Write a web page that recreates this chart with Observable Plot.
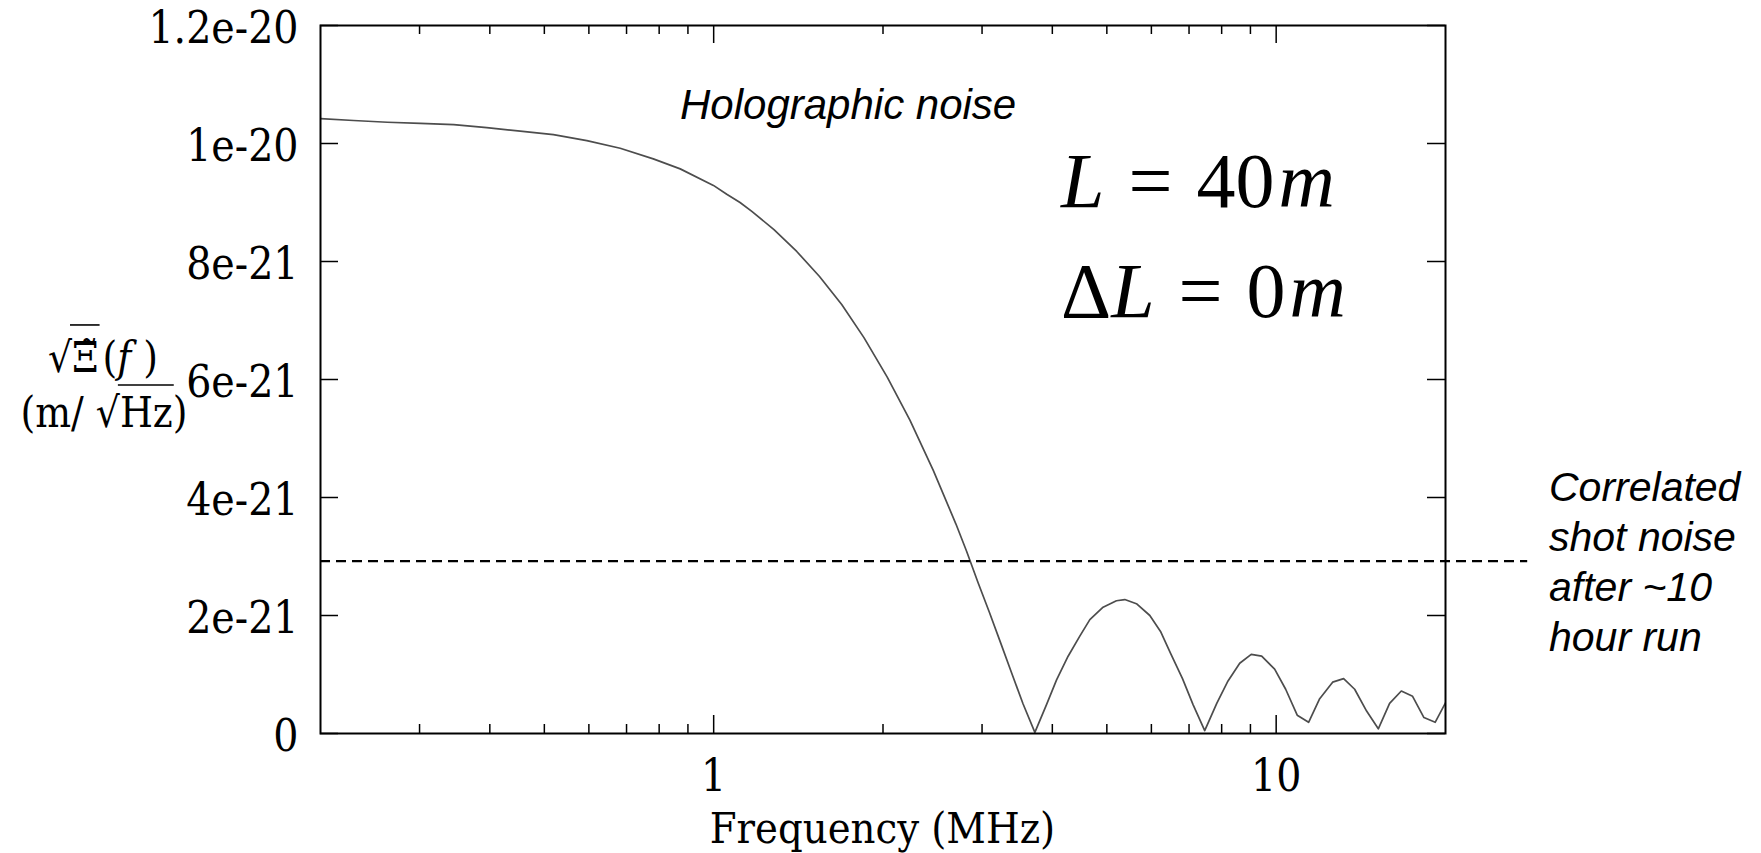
<!DOCTYPE html>
<html>
<head>
<meta charset="utf-8">
<script src="https://cdn.jsdelivr.net/npm/d3@7"></script>
<script src="https://cdn.jsdelivr.net/npm/@observablehq/plot@0.6"></script>
<style>
  html, body { margin: 0; padding: 0; background: #fff; }
  #chart svg { display: block; }
</style>
</head>
<body>
<div id="chart"></div>
<script>
// ---------- data ----------
const freqMHz = [
  0.200, 0.229, 0.263, 0.301, 0.345, 0.395, 0.453, 0.519, 0.595, 0.682,
  0.781, 0.872, 0.999, 1.055, 1.114, 1.169, 1.280, 1.405, 1.541, 1.689,
  1.850, 2.035, 2.233, 2.457, 2.696, 2.816, 2.953, 3.090, 3.236, 3.394,
  3.549, 3.724, 3.906, 4.070, 4.267, 4.476, 4.664, 4.924, 5.200, 5.381,
  5.644, 5.962, 6.229, 6.497, 6.815, 7.116, 7.464, 7.841, 8.211, 8.614,
  9.029, 9.424, 9.938, 10.397, 10.90, 11.42, 11.95, 12.60, 13.18, 13.79,
  14.48, 15.19, 15.91, 16.69, 17.48, 18.31, 19.17, 20.0
];
const holographicNoise = [
  10.42e-21, 10.39e-21, 10.36e-21, 10.34e-21, 10.32e-21, 10.27e-21, 10.21e-21, 10.15e-21, 10.05e-21, 9.92e-21,
  9.74e-21, 9.57e-21, 9.29e-21, 9.14e-21, 9.00e-21, 8.85e-21, 8.54e-21, 8.17e-21, 7.75e-21, 7.27e-21,
  6.71e-21, 6.04e-21, 5.31e-21, 4.46e-21, 3.55e-21, 3.09e-21, 2.55e-21, 2.06e-21, 1.54e-21, 1.00e-21,
  0.50e-21, 0.02e-21, 0.49e-21, 0.91e-21, 1.31e-21, 1.65e-21, 1.93e-21, 2.14e-21, 2.25e-21, 2.27e-21,
  2.20e-21, 2.00e-21, 1.73e-21, 1.35e-21, 0.93e-21, 0.49e-21, 0.05e-21, 0.51e-21, 0.89e-21, 1.19e-21,
  1.34e-21, 1.31e-21, 1.09e-21, 0.75e-21, 0.31e-21, 0.19e-21, 0.59e-21, 0.87e-21, 0.93e-21, 0.75e-21,
  0.38e-21, 0.08e-21, 0.51e-21, 0.72e-21, 0.63e-21, 0.27e-21, 0.19e-21, 0.52e-21
];
const shotNoiseLevel = 2.92e-21;
const shotNoiseFrom = 0.2;
const shotNoiseTo = 28;

const yTicks = [0, 2e-21, 4e-21, 6e-21, 8e-21, 1e-20, 1.2e-20];
const xMajorTicks = [1, 10];
const xMinorTicks = [0.3, 0.4, 0.5, 0.6, 0.7, 0.8, 0.9, 2, 3, 4, 5, 6, 7, 8, 9];

const xLabel = "Frequency (MHz)";
const holoLabel = "Holographic noise";
const shotLabelLines = ["Correlated", "shot noise", "after ~10", "hour run"];

// ---------- layout ----------
const W = 1761, H = 853;
const mL = 320, mR = 316, mT = 25, mB = 120;
const plotW = W - mL - mR, plotH = H - mT - mB;
const serif = "'DejaVu Serif Condensed', 'DejaVu Serif', serif";
const mathSerif = "'DejaVu Serif', serif";
const sans = "'Liberation Sans', Arial, sans-serif";
const times = "'Liberation Serif', 'Times New Roman', serif";

const series = freqMHz.map((f, i) => ({f, v: holographicNoise[i]}));
const shot = [{level: shotNoiseLevel, from: shotNoiseFrom, to: shotNoiseTo}];

const fmtY = d => d === 0 ? "0" : d.toExponential();

const plot = Plot.plot({
  width: W, height: H,
  marginLeft: mL, marginRight: mR, marginTop: mT, marginBottom: mB,
  x: {type: "log", domain: [0.2, 20]},
  y: {domain: [0, 1.2e-20]},
  style: {fontFamily: serif, fontSize: "44px", color: "black", background: "white", fontStretch: "condensed", overflow: "visible"},
  marks: [
    Plot.line(series, {x: "f", y: "v", stroke: "#4d4d4d", strokeWidth: 1.7, clip: true}),
    Plot.ruleY(shot, {y: "level", x1: "from", x2: "to", stroke: "black", strokeWidth: 2.2, strokeDasharray: "10,6"}),
    Plot.tickY(yTicks, {y: d => d, insetRight: plotW - 18, stroke: "black", strokeWidth: 1.5}),
    Plot.tickY(yTicks, {y: d => d, insetLeft: plotW - 18, stroke: "black", strokeWidth: 1.5}),
    Plot.tickX(xMajorTicks, {x: d => d, insetTop: plotH - 18, stroke: "black", strokeWidth: 1.5}),
    Plot.tickX(xMajorTicks, {x: d => d, insetBottom: plotH - 18, stroke: "black", strokeWidth: 1.5}),
    Plot.tickX(xMinorTicks, {x: d => d, insetTop: plotH - 9, stroke: "black", strokeWidth: 1.5}),
    Plot.tickX(xMinorTicks, {x: d => d, insetBottom: plotH - 9, stroke: "black", strokeWidth: 1.5}),
    Plot.frame({stroke: "black", strokeWidth: 2}),
    Plot.axisY({ticks: yTicks, tickSize: 0, tickPadding: 22, tickFormat: fmtY, label: null, dy: 3}),
    Plot.axisX({ticks: xMajorTicks, tickSize: 0, tickPadding: 26, tickFormat: d => String(d), label: null})
  ]
});

document.getElementById("chart").appendChild(plot);
const svg = d3.select(plot);

// x-axis title
svg.append("text")
  .attr("x", mL + plotW / 2).attr("y", H - 10)
  .attr("text-anchor", "middle")
  .attr("font-family", serif).attr("font-size", 43)
  .style("font-stretch", "condensed")
  .text(xLabel);

// y-axis title (two lines) with radical bars drawn over the radicands
function radicalLine(x, y, size, barRise, pieces) {
  const t = svg.append("text")
    .attr("x", x).attr("y", y).attr("text-anchor", "middle")
    .attr("font-family", mathSerif).attr("font-size", size);
  const bars = [];
  pieces.forEach(([s, opts]) => {
    const sp = t.append("tspan").text(s);
    if (opts && opts.italic) sp.attr("font-style", "italic");
    if (opts && opts.dx) sp.attr("dx", opts.dx);
    if (opts && opts.bar) bars.push(sp.node());
  });
  bars.forEach(node => {
    const x0 = node.getStartPositionOfChar(0).x;
    const len = node.getComputedTextLength();
    svg.append("line")
      .attr("x1", x0 - 2).attr("x2", x0 + len + 1)
      .attr("y1", y - size * barRise).attr("y2", y - size * barRise)
      .attr("stroke", "black").attr("stroke-width", 1.6);
  });
}
radicalLine(103, 372, 42, 1.12, [["√"], ["\u039E\u0303", {bar: true}], ["(", {dx: 4}], ["f", {italic: true}], [" )"]]);
radicalLine(104, 427, 42, 1.0, [["(m/ √"], ["Hz", {bar: true}], [")"]]);

// Holographic noise label
svg.append("text")
  .attr("x", 680).attr("y", 119).attr("text-anchor", "start")
  .attr("font-family", sans).attr("font-style", "italic").attr("font-size", 42)
  .text(holoLabel);

// L = 40m, ΔL = 0m
function eqn(y, parts) {
  const t = svg.append("text").attr("x", 1061).attr("y", y).attr("text-anchor", "start")
    .attr("font-family", times).attr("font-size", 78);
  parts.forEach(([s, it, dx]) => {
    const sp = t.append("tspan").text(s);
    if (it) sp.attr("font-style", "italic");
    if (dx) sp.attr("dx", dx);
  });
}
eqn(207, [["L", true, 0], ["=", false, 24], ["40", false, 24], ["m", true, 4]]);
eqn(317, [["Δ", false, 0], ["L", true, 0], ["=", false, 24], ["0", false, 24], ["m", true, 4]]);

// shot noise label
shotLabelLines.forEach((s, i) => {
  svg.append("text")
    .attr("x", 1549).attr("y", 501 + i * 50).attr("text-anchor", "start")
    .attr("font-family", sans).attr("font-style", "italic").attr("font-size", 41)
    .text(s);
});
</script>
</body>
</html>
